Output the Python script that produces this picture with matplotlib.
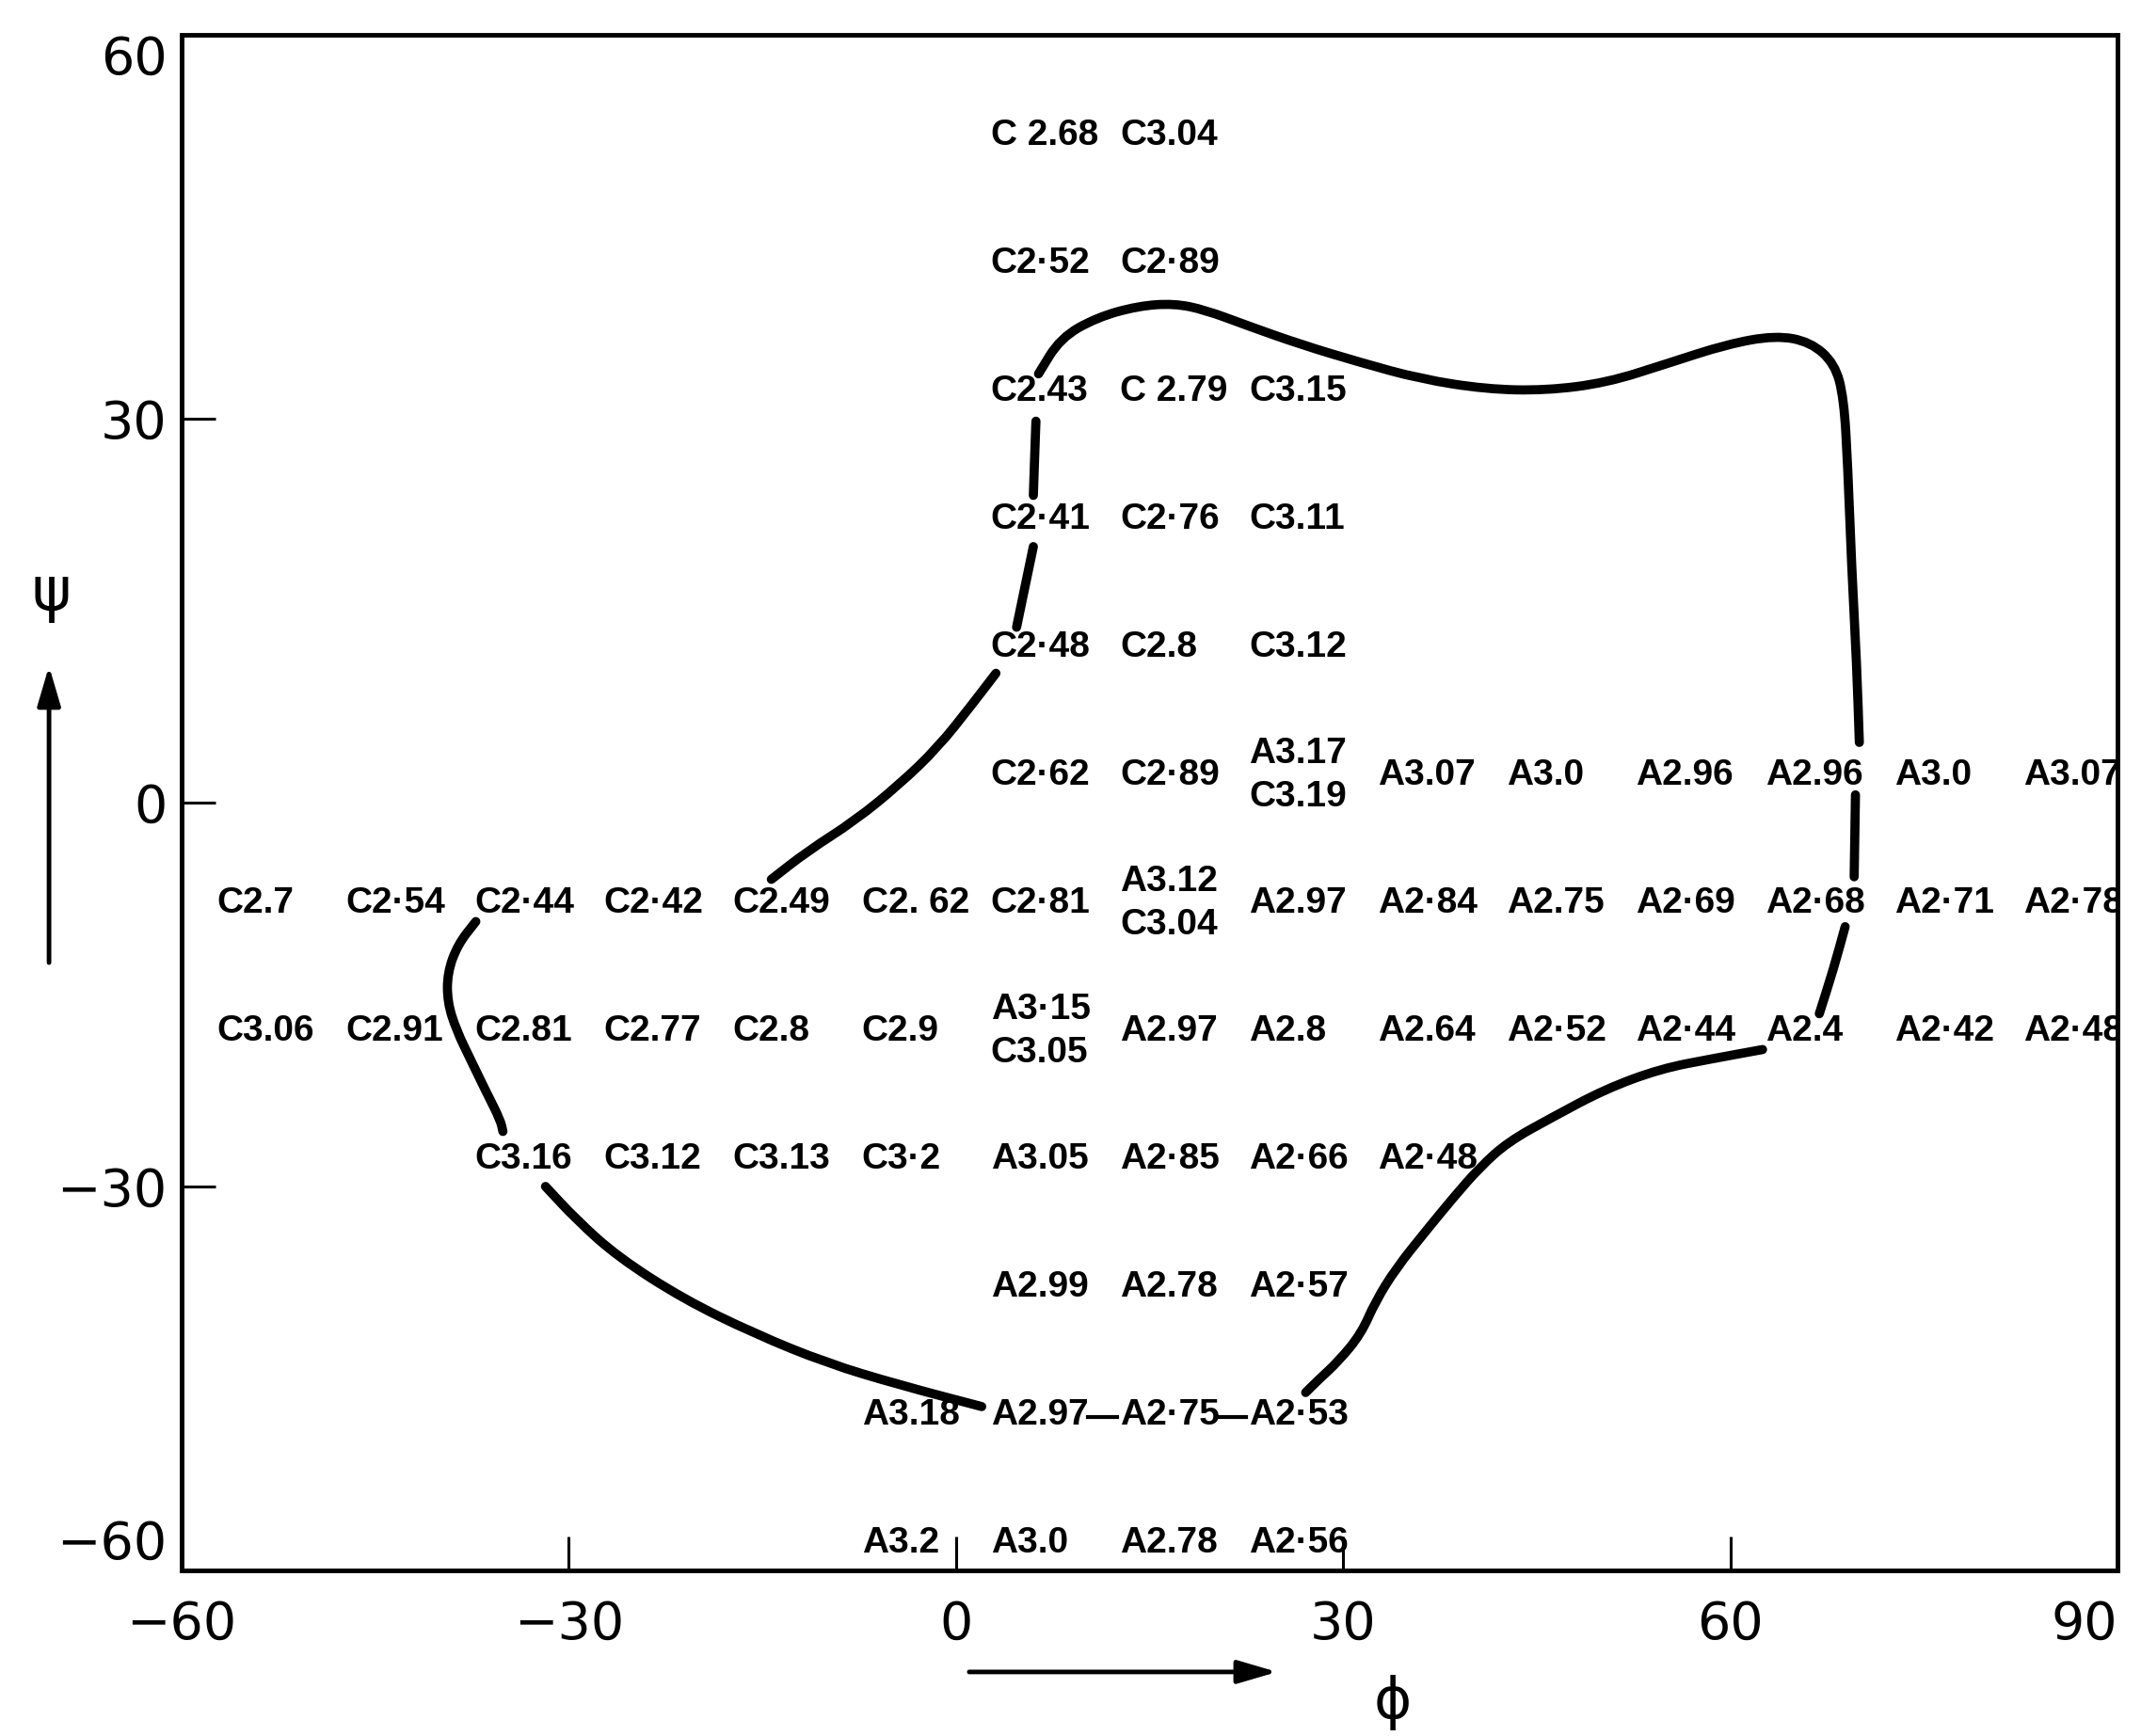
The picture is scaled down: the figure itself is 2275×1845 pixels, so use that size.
import numpy as np
import matplotlib
matplotlib.use("Agg")
import matplotlib.pyplot as plt
from matplotlib.path import Path
from matplotlib.patches import PathPatch

# grid rows (psi), first column (phi) of each row, and the labels on that row
row_psi = [50, 40, 30, 20, 10, 0, -10, -20, -30, -40, -50, -60]
row_phi0 = [0, 0, 0, 0, 0, 0, -60, -60, -40, 0, -10, -10]
row_labels = [
    ["C 2.68", "C3.04"],
    ["C2·52", "C2·89"],
    ["C2.43", "C 2.79", "C3.15"],
    ["C2·41", "C2·76", "C3.11"],
    ["C2·48", "C2.8", "C3.12"],
    ["C2·62", "C2·89", "A3.17\nC3.19", "A3.07", "A3.0", "A2.96", "A2.96", "A3.0", "A3.07"],
    ["C2.7", "C2·54", "C2·44", "C2·42", "C2.49", "C2. 62", "C2·81", "A3.12\nC3.04",
     "A2.97", "A2·84", "A2.75", "A2·69", "A2·68", "A2·71", "A2·78"],
    ["C3.06", "C2.91", "C2.81", "C2.77", "C2.8", "C2.9", "A3·15\nC3.05",
     "A2.97", "A2.8", "A2.64", "A2·52", "A2·44", "A2.4", "A2·42", "A2·48"],
    ["C3.16", "C3.12", "C3.13", "C3·2", "A3.05", "A2·85", "A2·66", "A2·48"],
    ["A2.99", "A2.78", "A2·57"],
    ["A3.18", "A2.97", "A2·75", "A2·53"],
    ["A3.2", "A3.0", "A2.78", "A2·56"],
]

# boundary curve in pieces (gaps where labels sit)
top_phi = [6.4, 8.1, 10.9, 14.1, 16.9, 19.3, 22.5, 26.7, 31.3, 36.0, 41.1, 45.7,
           50.4, 55.1, 59.7, 63.5, 66.2, 68.1, 68.8, 69.1, 69.4, 69.8, 70.0]
top_psi = [33.5, 36.3, 37.9, 38.8, 39.0, 38.5, 37.3, 35.8, 34.4, 33.1, 32.3, 32.2,
           32.8, 34.3, 35.8, 36.5, 36.0, 34.3, 31.6, 26.4, 18.5, 10.7, 4.7]

rmid_phi = [69.7, 69.6]
rmid_psi = [0.6, -5.8]

rlow_phi = [68.9, 68.0, 66.9]
rlow_psi = [-9.7, -13.0, -16.5]

lowr_phi = [62.5, 58.7, 54.6, 50.3, 46.2, 42.8, 40.6, 38.6, 36.4, 34.1, 32.5, 31.4, 29.7, 28.0, 27.1]
lowr_psi = [-19.3, -20.0, -20.8, -22.4, -24.6, -26.5, -28.5, -30.8, -33.5, -36.4, -39.0,
            -41.5, -43.6, -45.2, -46.1]

lowl_phi = [-31.8, -29.4, -26.2, -21.1, -15.6, -10.0, -4.4, 2.0]
lowl_psi = [-30.0, -32.6, -35.5, -38.8, -41.5, -43.8, -45.5, -47.2]

left_phi = [-37.2, -38.6, -39.4, -39.4, -38.7, -37.6, -36.4, -35.3, -35.1]
left_psi = [-9.3, -11.1, -13.3, -15.6, -17.8, -20.1, -22.6, -24.8, -25.7]

diag_phi = [3.1, 1.2, -1.4, -4.4, -7.8, -11.5, -14.3]
diag_psi = [10.1, 7.6, 4.3, 1.4, -1.4, -3.8, -6.0]

v1_phi = [6.0, 5.4, 4.7]
v1_psi = [20.0, 17.1, 13.7]

v2_phi = [6.2, 6.1, 6.0]
v2_psi = [29.8, 27.0, 24.0]

dash_phi = [[10.2, 12.5], [20.3, 22.5]]
dash_psi = [[-48.0, -48.0], [-48.0, -48.0]]

x_ticks = [-60, -30, 0, 30, 60, 90]
y_ticks = [-60, -30, 0, 30, 60]

label_font = "Liberation Sans"


def smooth_path(xs, ys):
    # read points used as quadratic bezier controls, so the pen line has no kinks
    pts = list(zip(xs, ys))
    if len(pts) < 3:
        return Path(pts)
    verts = [pts[0]]
    codes = [Path.MOVETO]
    mid = ((pts[0][0] + pts[1][0]) / 2, (pts[0][1] + pts[1][1]) / 2)
    verts.append(mid)
    codes.append(Path.LINETO)
    for i in range(1, len(pts) - 1):
        nxt = ((pts[i][0] + pts[i + 1][0]) / 2, (pts[i][1] + pts[i + 1][1]) / 2)
        verts += [pts[i], nxt]
        codes += [Path.CURVE3, Path.CURVE3]
    verts.append(pts[-1])
    codes.append(Path.LINETO)
    return Path(verts, codes)


fig = plt.figure(figsize=(22.75, 18.45), dpi=100)
ax = fig.add_axes([0.0848, 0.0954, 0.9042, 0.8846])
ax.set_xlim(-60, 90)
ax.set_ylim(-60, 60)

for s in ax.spines.values():
    s.set_linewidth(3.5)

ax.set_xticks(x_ticks)
ax.set_yticks(y_ticks)
ax.tick_params(direction="in", length=26, width=2.2, labelsize=40)
ax.tick_params(axis="x", pad=22)
ax.tick_params(axis="y", pad=11)
ylabs = ax.get_yticklabels()
ylabs[0].set_va("bottom")
ylabs[-1].set_va("top")
xlabs = ax.get_xticklabels()
xlabs[-1].set_ha("right")

# labels at the grid points
for psi, phi0, labels in zip(row_psi, row_phi0, row_labels):
    for i, lab in enumerate(labels):
        if lab is None:
            continue
        ax.text(phi0 + 10 * i + 2.7, psi + 2.1, lab,
                ha="left", va="center", multialignment="left",
                fontsize=28, fontweight="bold", family=label_font,
                linespacing=1.35, clip_on=True)

# the contour
segments = [
    (top_phi, top_psi), (rmid_phi, rmid_psi), (rlow_phi, rlow_psi),
    (lowr_phi, lowr_psi), (lowl_phi, lowl_psi), (left_phi, left_psi),
    (diag_phi, diag_psi), (v1_phi, v1_psi), (v2_phi, v2_psi),
]
for sx, sy in segments:
    ax.add_patch(PathPatch(smooth_path(sx, sy), facecolor="none", edgecolor="black",
                           lw=7, capstyle="round", joinstyle="round"))

for dx, dy in zip(dash_phi, dash_psi):
    ax.plot(dx, dy, color="black", lw=3)

# axis names with arrows
fig.text(0.024, 0.658, "ψ", fontsize=46, ha="center", va="center")
fig.text(0.6505, 0.019, "ϕ", fontsize=44, ha="center", va="center")

ax.annotate("", xy=(0.0229, 0.6163), xytext=(0.0229, 0.4455),
            xycoords="figure fraction", textcoords="figure fraction",
            arrowprops=dict(arrowstyle="-|>,head_width=0.25,head_length=0.85",
                            lw=3.5, color="black", mutation_scale=30,
                            shrinkA=0, shrinkB=0))
ax.annotate("", xy=(0.5965, 0.0369), xytext=(0.4527, 0.0369),
            xycoords="figure fraction", textcoords="figure fraction",
            arrowprops=dict(arrowstyle="-|>,head_width=0.25,head_length=0.85",
                            lw=3.5, color="black", mutation_scale=30,
                            shrinkA=0, shrinkB=0))

plt.savefig("out.png", dpi=100)
